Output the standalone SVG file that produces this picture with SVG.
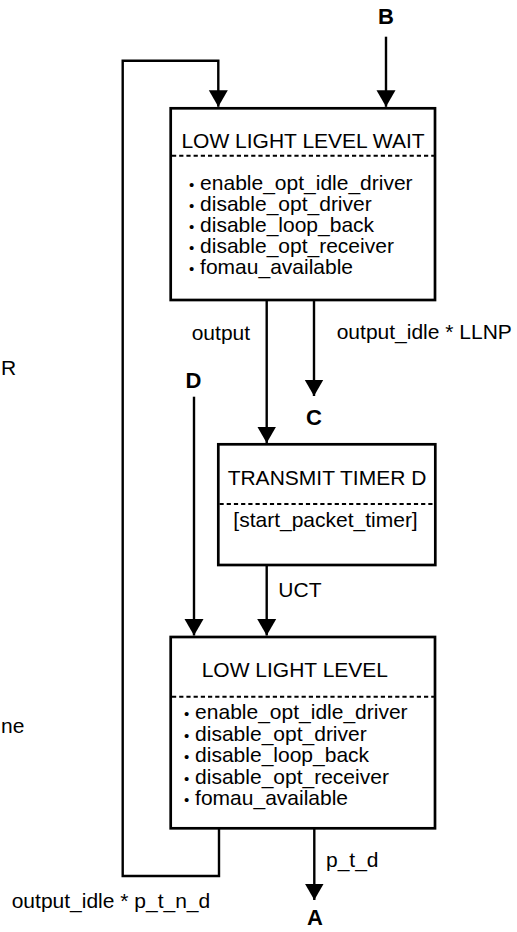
<svg xmlns="http://www.w3.org/2000/svg" width="517" height="932" viewBox="0 0 517 932">
<style>
text{font-family:"Liberation Sans",Arial,Helvetica,sans-serif;font-size:21px;fill:#000}
.lbl{font-weight:bold;font-size:22px;text-anchor:middle}
.box{fill:#fff;stroke:#000;stroke-width:2.7}
.dash{stroke:#000;stroke-width:2;stroke-dasharray:4.2 3}
.c{fill:none;stroke:#000;stroke-width:2.4}
.mid{text-anchor:middle}
.b{font-size:15px}
</style>
<defs>
<marker id="ah" markerUnits="userSpaceOnUse" markerWidth="17" markerHeight="20" refX="16.5" refY="9.5" orient="auto" viewBox="0 0 17 19">
<path d="M0,0 L16.5,9.5 L0,19 z" fill="#000"/>
</marker>
</defs>
<rect width="517" height="932" fill="#fff"/>
<g id="connectors">
<path class="c" d="M219,828.5 V876 H122.7 V60.7 H218.3 V106.8" marker-end="url(#ah)"/>
<path class="c" d="M386,36.7 V106.8" marker-end="url(#ah)"/>
<path class="c" d="M266.7,300 V443" marker-end="url(#ah)"/>
<path class="c" d="M314,300 V396" marker-end="url(#ah)"/>
<path class="c" d="M194,396.7 V635.5" marker-end="url(#ah)"/>
<path class="c" d="M266.7,565 V635.5" marker-end="url(#ah)"/>
<path class="c" d="M314.3,828.5 V900" marker-end="url(#ah)"/>
<text x="191.7" y="340">output</text>
<text x="336.7" y="339">output_idle * LLNP</text>
<text x="278.3" y="596.7">UCT</text>
<text x="326" y="866.7">p_t_d</text>
<text x="11.7" y="908.3">output_idle * p_t_n_d</text>
</g>
<g id="conn-labels">
<text class="lbl" x="386" y="23.5">B</text>
<text class="lbl" x="314" y="425">C</text>
<text class="lbl" x="193.5" y="387.5">D</text>
<text class="lbl" x="315" y="925">A</text>
</g>
<g id="fragments">
<text x="1" y="375">R</text>
<text x="1" y="733">ne</text>
</g>
<g id="low-light-level-wait">
<rect class="box" x="170.7" y="108.3" width="264.3" height="191.7"/>
<line class="dash" x1="172" y1="155.7" x2="434" y2="155.7"/>
<text class="mid" x="303" y="148.3">LOW LIGHT LEVEL WAIT</text>
<text x="189" y="190"><tspan class="b">•</tspan> enable_opt_idle_driver</text>
<text x="189" y="211"><tspan class="b">•</tspan> disable_opt_driver</text>
<text x="189" y="232"><tspan class="b">•</tspan> disable_loop_back</text>
<text x="189" y="253"><tspan class="b">•</tspan> disable_opt_receiver</text>
<text x="189" y="274"><tspan class="b">•</tspan> fomau_available</text>
</g>
<g id="transmit-timer-d">
<rect class="box" x="218.3" y="444.3" width="217" height="120.7"/>
<line class="dash" x1="219.5" y1="504" x2="434" y2="504"/>
<text class="mid" x="327" y="485">TRANSMIT TIMER D</text>
<text class="mid" x="325.5" y="526.7">[start_packet_timer]</text>
</g>
<g id="low-light-level">
<rect class="box" x="170.7" y="637" width="264.3" height="191.3"/>
<line class="dash" x1="172" y1="696.7" x2="434" y2="696.7"/>
<text x="201.7" y="676.7">LOW LIGHT LEVEL</text>
<text x="184" y="719"><tspan class="b">•</tspan> enable_opt_idle_driver</text>
<text x="184" y="740.5"><tspan class="b">•</tspan> disable_opt_driver</text>
<text x="184" y="762"><tspan class="b">•</tspan> disable_loop_back</text>
<text x="184" y="783.5"><tspan class="b">•</tspan> disable_opt_receiver</text>
<text x="184" y="805"><tspan class="b">•</tspan> fomau_available</text>
</g>
</svg>
